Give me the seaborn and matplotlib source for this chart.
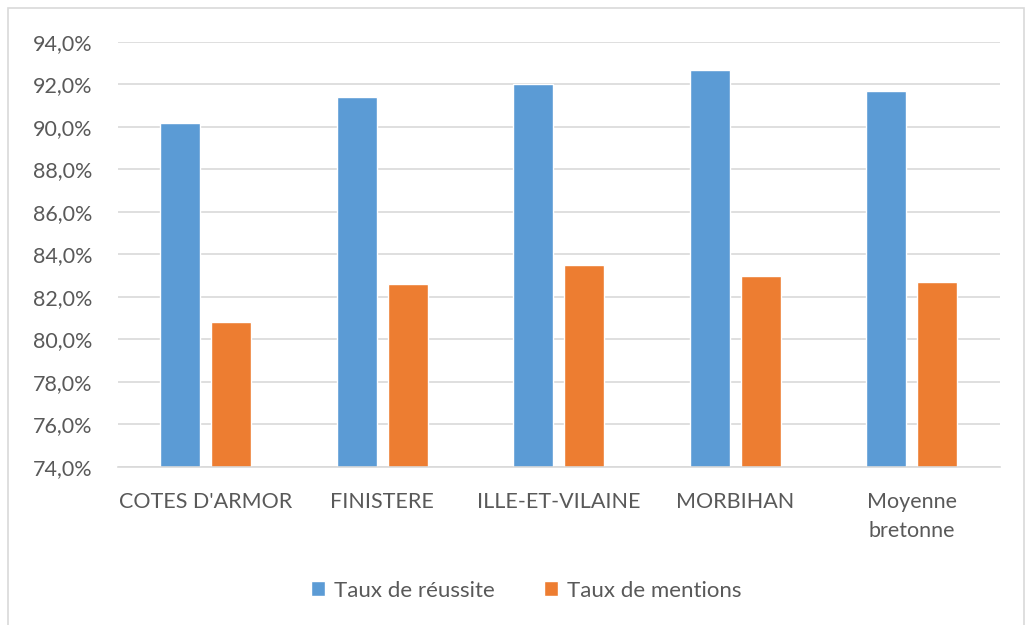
import matplotlib
matplotlib.use("Agg")
import matplotlib.pyplot as plt
import matplotlib.patches as patches
from matplotlib.ticker import FuncFormatter
import seaborn as sns
import pandas as pd

# values
departements = ["COTES D'ARMOR", "FINISTERE", "ILLE-ET-VILAINE", "MORBIHAN", "Moyenne\nbretonne"]
taux_reussite = [90.2, 91.4, 92.0, 92.7, 91.7]
taux_mentions = [80.8, 82.6, 83.5, 83.0, 82.7]
series = ["Taux de réussite", "Taux de mentions"]
colors = ["#5B9BD5", "#ED7D31"]

data = pd.DataFrame({
    "dep": departements * 2,
    "taux": taux_reussite + taux_mentions,
    "serie": [series[0]] * len(departements) + [series[1]] * len(departements),
})

sns.set_style("white")
plt.rcParams['font.family'] = ['Lato', 'DejaVu Sans']

fig = plt.figure(figsize=(10.32, 6.25), dpi=100)
ax = fig.add_axes([0.114, 0.253, 0.855, 0.68])

sns.barplot(data=data, x="dep", y="taux", hue="serie", palette=colors,
            width=0.578, gap=0.216, ax=ax, saturation=1)

ax.set_ylim(74, 94)
ax.set_yticks(range(74, 95, 2))
ax.yaxis.set_major_formatter(FuncFormatter(lambda v, p: f"{v:.1f}%".replace(".", ",")))
ax.grid(axis="y", color="#D9D9D9", linewidth=1.2)
ax.set_axisbelow(True)
for s in ["top", "right", "left"]:
    ax.spines[s].set_visible(False)
ax.spines["bottom"].set_color("#D9D9D9")
ax.spines["bottom"].set_linewidth(1.2)
ax.tick_params(axis="both", length=0, labelsize=15.5, labelcolor="#595959")
ax.tick_params(axis="y", pad=18)
ax.tick_params(axis="x", pad=18)
for t in ax.get_xticklabels():
    t.set_linespacing(1.55)
ax.set_xlabel("")
ax.set_ylabel("")

ax.legend(loc="center", bbox_to_anchor=(0.51, 0.055), bbox_transform=fig.transFigure,
          ncol=2, frameon=False, fontsize=16, labelcolor="#595959",
          handlelength=0.65, handleheight=0.65, columnspacing=2.2, handletextpad=0.4)

# light frame around the chart
fig.patches.append(patches.Rectangle((0.008, -0.01), 0.984, 0.997, transform=fig.transFigure,
                                     fill=False, edgecolor="#D9D9D9", linewidth=1.2))

fig.savefig("out.png", dpi=100)
